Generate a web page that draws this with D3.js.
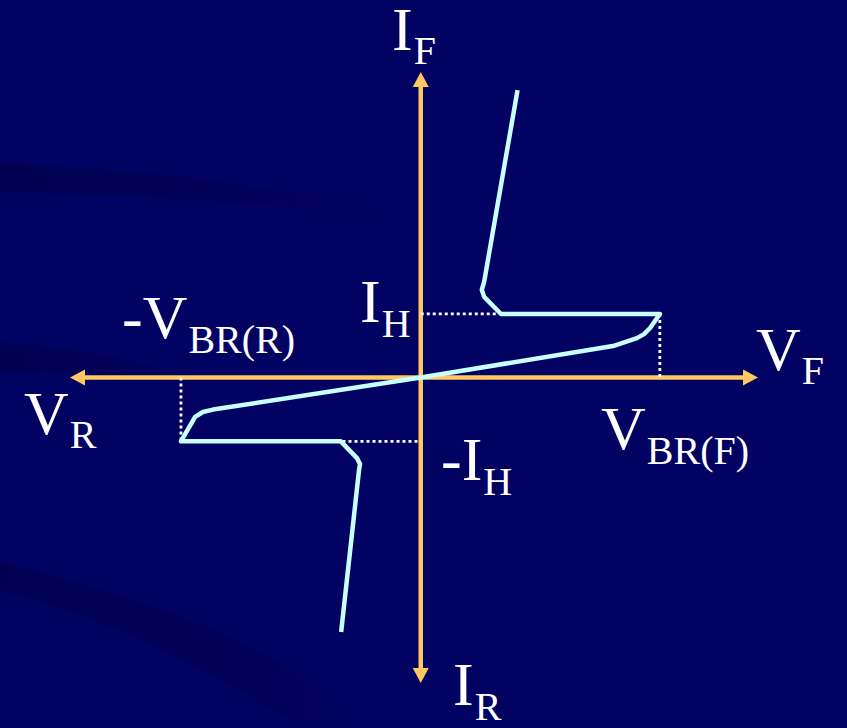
<!DOCTYPE html>
<html><head><meta charset="utf-8">
<script src="https://cdn.jsdelivr.net/npm/d3@7"></script>
<style>html,body{margin:0;padding:0;background:#020262;overflow:hidden} svg{display:block}</style>
</head><body>
<script>
// ---- data ----
const voltageDomain = [-10.4, 10];
const currentDomain = [-10, 10];
const VBR_F = 7.09, VBR_R = -7.11, IH = 2.08, IH_R = -2.09;
const forwardV = [0, 5.70, 6.41, 6.62, 6.80, 7.09, 2.38, 1.88, 1.81, 1.88, 2.87];
const forwardI = [0, 1.03, 1.29, 1.42, 1.62, 2.08, 2.08, 2.64, 2.87, 3.13, 9.41];
const reverseV = [0, -6.16, -6.46, -6.69, -7.11, -2.37, -1.89, -1.80, -1.83, -2.36];
const reverseI = [0, -1.05, -1.13, -1.29, -2.09, -2.09, -2.64, -2.83, -3.03, -8.33];
const labelMain = ["I", "V", "V", "I", "V", "I", "-I", "-V"];
const labelSub  = ["F", "F", "BR(F)", "R", "R", "H", "H", "BR(R)"];

// ---- drawing ----
const W = 847, H = 728;
const svg = d3.select("body").append("svg").attr("width", W).attr("height", H);
svg.append("rect").attr("width", W).attr("height", H).attr("fill", "#020262");

// subtle background swooshes
const defs = svg.append("defs");
const g1 = defs.append("linearGradient").attr("id", "fadeR").attr("x1", "0").attr("x2", "1");
g1.append("stop").attr("offset", "0").attr("stop-color", "#00004e").attr("stop-opacity", 0.75);
g1.append("stop").attr("offset", "0.6").attr("stop-color", "#00004e").attr("stop-opacity", 0.45);
g1.append("stop").attr("offset", "1").attr("stop-color", "#00004e").attr("stop-opacity", 0);
const g2 = defs.append("linearGradient").attr("id", "fadeR2").attr("x1", "0").attr("x2", "1");
g2.append("stop").attr("offset", "0").attr("stop-color", "#00004e").attr("stop-opacity", 0.7);
g2.append("stop").attr("offset", "0.75").attr("stop-color", "#00004e").attr("stop-opacity", 0.45);
g2.append("stop").attr("offset", "1").attr("stop-color", "#00004e").attr("stop-opacity", 0.1);
const area = d3.line().curve(d3.curveBasis);
svg.append("path").attr("fill", "url(#fadeR)")
  .attr("d", area([[0,163],[150,172],[300,192],[430,218],[300,208],[150,196],[0,192]]) + "Z");
svg.append("path").attr("fill", "url(#fadeR)")
  .attr("d", area([[0,342],[80,350],[170,368],[230,385],[150,378],[70,374],[0,372]]) + "Z");
svg.append("path").attr("fill", "url(#fadeR2)")
  .attr("d", area([[0,562],[100,588],[200,622],[280,660],[330,700],[350,728],[305,728],[255,700],[190,662],[100,620],[0,590]]) + "Z");

const x = d3.scaleLinear().domain(voltageDomain).range([70, 758]);
const y = d3.scaleLinear().domain(currentDomain).range([683, 72]);

const axisColor = "#ffc860";
const head = 15, hw = 8;
// axes
svg.append("line").attr("x1", x(voltageDomain[0]) + head - 1).attr("x2", x(voltageDomain[1]) - head + 1)
  .attr("y1", y(0)).attr("y2", y(0)).attr("stroke", axisColor).attr("stroke-width", 4.5);
svg.append("line").attr("y1", y(currentDomain[0]) - head + 1).attr("y2", y(currentDomain[1]) + head - 1)
  .attr("x1", x(0)).attr("x2", x(0)).attr("stroke", axisColor).attr("stroke-width", 4.5);
const arrows = [
  [[x(voltageDomain[0]), y(0)], [x(voltageDomain[0]) + head, y(0) - hw], [x(voltageDomain[0]) + head, y(0) + hw]],
  [[x(voltageDomain[1]), y(0)], [x(voltageDomain[1]) - head, y(0) - hw], [x(voltageDomain[1]) - head, y(0) + hw]],
  [[x(0), y(currentDomain[1])], [x(0) - hw, y(currentDomain[1]) + head], [x(0) + hw, y(currentDomain[1]) + head]],
  [[x(0), y(currentDomain[0])], [x(0) - hw, y(currentDomain[0]) - head], [x(0) + hw, y(currentDomain[0]) - head]]
];
svg.selectAll(".arrow").data(arrows).enter().append("path")
  .attr("d", d => "M" + d.join("L") + "Z").attr("fill", axisColor);

// dotted guides
const guides = [
  [[0, IH], [2.28, IH]],
  [[VBR_F, IH], [VBR_F, 0]],
  [[VBR_R, 0], [VBR_R, IH_R]],
  [[-2.32, IH_R], [0, IH_R]]
];
svg.selectAll(".guide").data(guides).enter().append("line")
  .attr("x1", d => x(d[0][0])).attr("y1", d => y(d[0][1]))
  .attr("x2", d => x(d[1][0])).attr("y2", d => y(d[1][1]))
  .attr("stroke", "#ffffff").attr("stroke-width", 2.8).attr("stroke-dasharray", "3,3");

// characteristic curve
const line = d3.line().x(d => x(d[0])).y(d => y(d[1]));
const fwd = forwardV.map((v, i) => [v, forwardI[i]]);
const rev = reverseV.map((v, i) => [v, reverseI[i]]);
[fwd, rev].forEach(pts => {
  svg.append("path").attr("d", line(pts)).attr("fill", "none")
    .attr("stroke", "#c8ffff").attr("stroke-width", 4.5)
    .attr("stroke-linejoin", "round").attr("stroke-linecap", "butt");
});

// labels (position: left x, main baseline, sub baseline)
const placement = [
  [392, 50, 64],
  [756, 370, 384],
  [601, 449, 464],
  [453, 705, 720],
  [24, 434, 448],
  [360, 322, 337],
  [441, 480, 495],
  [122, 338, 353]
];
labelMain.forEach((m, i) => {
  const p = placement[i];
  const t = svg.append("text").attr("x", p[0]).attr("y", p[1])
    .attr("font-family", "'Liberation Serif', 'Times New Roman', serif")
    .attr("fill", "#ffffff").attr("font-size", 62);
  t.append("tspan").text(m);
  t.append("tspan").attr("font-size", 40).attr("dy", p[2] - p[1]).attr("dx", 1).text(labelSub[i]);
});
</script>
</body></html>
